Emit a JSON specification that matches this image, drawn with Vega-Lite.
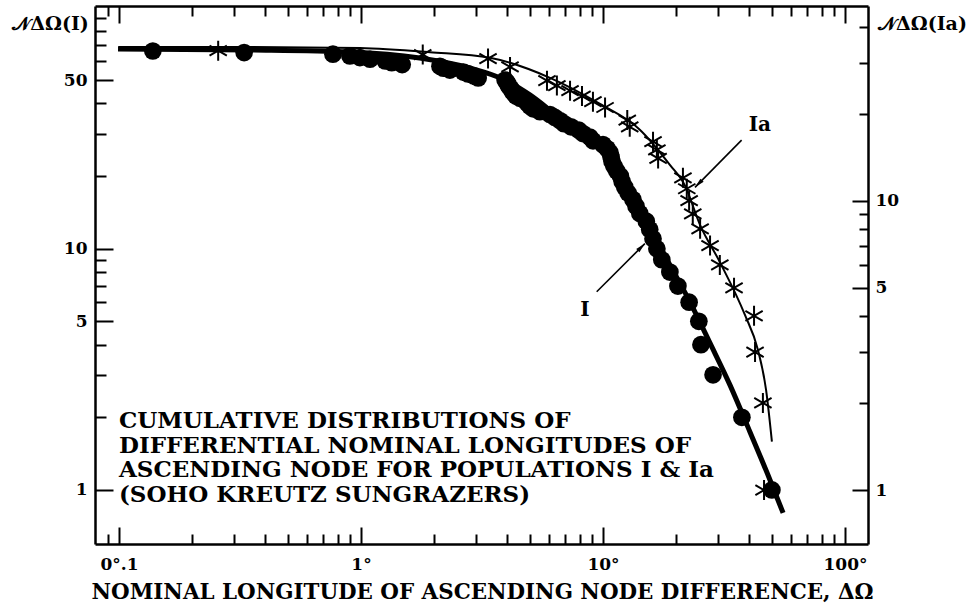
{
  "$schema": "https://vega.github.io/schema/vega-lite/v6.json",
  "width": 773,
  "height": 538,
  "autosize": {"type": "none"},
  "padding": {"left": 95, "top": 6, "right": 101, "bottom": 59},
  "background": "white",
  "config": {"view": {"stroke": null}, "font": "DejaVu Serif",
    "axis": {"grid": false, "tickColor": "black", "tickWidth": 2, "domainColor": "black", "domainWidth": 2.5,
      "labelFont": "DejaVu Serif", "labelFontWeight": "bold", "labelFontSize": 17, "labelColor": "black",
      "labelOverlap": false, "labelFlush": false, "labelBound": false,
      "titleFont": "DejaVu Serif", "titleFontWeight": "bold", "titleColor": "black"}},
  "datasets": {
    "popI": [
      {"dOmega": 0.138, "N": 66}, {"dOmega": 0.329, "N": 65}, {"dOmega": 0.766, "N": 64}, {"dOmega": 0.90, "N": 63},
      {"dOmega": 0.99, "N": 62}, {"dOmega": 1.09, "N": 61}, {"dOmega": 1.26, "N": 60}, {"dOmega": 1.34, "N": 59},
      {"dOmega": 1.48, "N": 58}, {"dOmega": 2.12, "N": 57}, {"dOmega": 2.19, "N": 56}, {"dOmega": 2.33, "N": 55},
      {"dOmega": 2.65, "N": 54}, {"dOmega": 2.77, "N": 53}, {"dOmega": 2.93, "N": 52}, {"dOmega": 3.05, "N": 51},
      {"dOmega": 3.94, "N": 50}, {"dOmega": 4.01, "N": 49}, {"dOmega": 4.05, "N": 48}, {"dOmega": 4.09, "N": 47},
      {"dOmega": 4.17, "N": 46}, {"dOmega": 4.21, "N": 45}, {"dOmega": 4.29, "N": 44}, {"dOmega": 4.37, "N": 43},
      {"dOmega": 4.54, "N": 42}, {"dOmega": 4.80, "N": 41}, {"dOmega": 4.88, "N": 40}, {"dOmega": 4.99, "N": 39},
      {"dOmega": 5.15, "N": 38}, {"dOmega": 5.49, "N": 37}, {"dOmega": 6.04, "N": 36}, {"dOmega": 6.33, "N": 35},
      {"dOmega": 6.64, "N": 34}, {"dOmega": 6.90, "N": 33}, {"dOmega": 7.38, "N": 32}, {"dOmega": 7.95, "N": 31},
      {"dOmega": 8.27, "N": 30}, {"dOmega": 8.84, "N": 29}, {"dOmega": 9.1, "N": 28}, {"dOmega": 10.0, "N": 27},
      {"dOmega": 10.4, "N": 26}, {"dOmega": 10.7, "N": 25}, {"dOmega": 10.8, "N": 24}, {"dOmega": 10.9, "N": 23},
      {"dOmega": 11.1, "N": 22}, {"dOmega": 11.4, "N": 21}, {"dOmega": 11.8, "N": 20}, {"dOmega": 12.0, "N": 19},
      {"dOmega": 12.3, "N": 18}, {"dOmega": 12.7, "N": 17}, {"dOmega": 13.3, "N": 16}, {"dOmega": 13.7, "N": 15},
      {"dOmega": 14.2, "N": 14}, {"dOmega": 15.1, "N": 13}, {"dOmega": 15.6, "N": 12}, {"dOmega": 16.1, "N": 11},
      {"dOmega": 16.7, "N": 10}, {"dOmega": 17.5, "N": 9}, {"dOmega": 18.9, "N": 8}, {"dOmega": 20.4, "N": 7},
      {"dOmega": 22.7, "N": 6}, {"dOmega": 24.9, "N": 5}, {"dOmega": 25.4, "N": 4}, {"dOmega": 28.5, "N": 3},
      {"dOmega": 37.5, "N": 2}, {"dOmega": 49.9, "N": 1}
    ],
    "popIa": [
      {"dOmega": 0.257, "N": 33}, {"dOmega": 1.80, "N": 32}, {"dOmega": 3.35, "N": 31}, {"dOmega": 4.13, "N": 29},
      {"dOmega": 5.87, "N": 26}, {"dOmega": 6.45, "N": 25}, {"dOmega": 7.31, "N": 24}, {"dOmega": 8.19, "N": 23},
      {"dOmega": 9.09, "N": 22}, {"dOmega": 10.2, "N": 21}, {"dOmega": 12.6, "N": 19}, {"dOmega": 12.9, "N": 18},
      {"dOmega": 16.1, "N": 16}, {"dOmega": 16.7, "N": 15}, {"dOmega": 16.9, "N": 14}, {"dOmega": 21.4, "N": 12},
      {"dOmega": 22.2, "N": 11}, {"dOmega": 22.7, "N": 10}, {"dOmega": 23.5, "N": 9}, {"dOmega": 25.2, "N": 8},
      {"dOmega": 27.7, "N": 7}, {"dOmega": 30.4, "N": 6}, {"dOmega": 34.8, "N": 5}, {"dOmega": 42.1, "N": 4},
      {"dOmega": 42.5, "N": 3}, {"dOmega": 45.8, "N": 2}, {"dOmega": 46.3, "N": 1}
    ],
    "fitI": [
      {"dOmega": 0.0991, "N": 67.2}, {"dOmega": 0.348, "N": 66.6}, {"dOmega": 0.901, "N": 65.4}, {"dOmega": 1.75, "N": 61.7},
      {"dOmega": 2.82, "N": 56.1}, {"dOmega": 3.94, "N": 50.0}, {"dOmega": 4.99, "N": 43.4}, {"dOmega": 6.64, "N": 34.8},
      {"dOmega": 8.84, "N": 28.2}, {"dOmega": 10.7, "N": 22.9}, {"dOmega": 12.9, "N": 16.7}, {"dOmega": 15.6, "N": 12.2},
      {"dOmega": 18.9, "N": 8.57}, {"dOmega": 22.9, "N": 6.01}, {"dOmega": 27.7, "N": 4.06}, {"dOmega": 33.5, "N": 2.72},
      {"dOmega": 40.5, "N": 1.74}, {"dOmega": 49.0, "N": 1.10}, {"dOmega": 55.5, "N": 0.803}
    ],
    "fitIa": [
      {"dOmega": 0.0994, "N": 34.0}, {"dOmega": 0.316, "N": 34.0}, {"dOmega": 0.99, "N": 33.7}, {"dOmega": 1.93, "N": 32.6},
      {"dOmega": 3.41, "N": 31.2}, {"dOmega": 6.04, "N": 26.6}, {"dOmega": 9.72, "N": 21.6}, {"dOmega": 14.2, "N": 17.6},
      {"dOmega": 18.9, "N": 13.3}, {"dOmega": 21.8, "N": 11.3}, {"dOmega": 25.2, "N": 8.24}, {"dOmega": 30.4, "N": 6.14},
      {"dOmega": 38.6, "N": 4.03}, {"dOmega": 43.7, "N": 3.05}, {"dOmega": 47.2, "N": 2.22}, {"dOmega": 49.9, "N": 1.47}
    ],
    "arrows": [
      {"label": "I", "x1": 9.42, "y1": 6.63, "x2": 14.9, "y2": 10.5},
      {"label": "Ia", "x1": 37.4, "y1": 28.2, "x2": 24.0, "y2": 17.96}
    ],
    "labels": [
      {"text": "I", "x": 8.43, "y": 5.57},
      {"text": "Ia", "x": 44.5, "y": 32.6}
    ],
    "note": [
      {"text": "CUMULATIVE DISTRIBUTIONS OF\nDIFFERENTIAL NOMINAL LONGITUDES OF\nASCENDING NODE FOR POPULATIONS I & Ia\n(SOHO KREUTZ SUNGRAZERS)", "x": 0.1, "y": 1.807}
    ]
  },
  "layer": [
    {
      "data": {"name": "fitIa"},
      "mark": {"type": "line", "color": "black", "strokeWidth": 2, "interpolate": "monotone"},
      "encoding": {
        "x": {"field": "dOmega", "type": "quantitative",
          "scale": {"type": "log", "domain": [0.0796, 124.5], "nice": false},
          "axis": {"orient": "top", "values": [0.1, 1, 10, 100], "labels": false, "tickSize": -17, "title": null}},
        "y": {"field": "N", "type": "quantitative",
          "scale": {"type": "log", "domain": [0.651, 47.1], "nice": false},
          "axis": {"orient": "right", "values": [1, 5, 10],
            "labelExpr": "datum.value == 1 ? '1' : datum.value == 5 ? '5' : '10'",
            "tickSize": -16, "labelPadding": 23,
            "title": "𝒩ΔΩ(Ia)", "titleFontSize": 19,
            "titleAngle": 0, "titleX": 54, "titleY": 17, "titleAlign": "center", "titleBaseline": "middle"}}
      }
    },
    {
      "data": {"name": "popIa"},
      "mark": {"type": "point", "shape": "M0,-1L0,1M-0.866,-0.5L0.866,0.5M-0.866,0.5L0.866,-0.5", "size": 400, "filled": false, "stroke": "black", "strokeWidth": 2, "opacity": 1},
      "encoding": {
        "x": {"field": "dOmega", "type": "quantitative", "scale": {"type": "log", "domain": [0.0796, 124.5], "nice": false},
          "axis": {"orient": "top", "values": [0.09, 0.2, 0.3, 0.4, 0.5, 0.6, 0.7, 0.8, 0.9, 2, 3, 4, 5, 6, 7, 8, 9, 20, 30, 40, 50, 60, 70, 80, 90], "labels": false, "domain": false, "tickSize": -10, "title": null}},
        "y": {"field": "N", "type": "quantitative", "scale": {"type": "log", "domain": [0.651, 47.1], "nice": false},
          "axis": {"orient": "right", "values": [2, 3, 4, 6, 7, 8, 9, 20, 30, 40], "labels": false, "domain": false, "tickSize": -9, "title": null}}
      }
    },
    {
      "data": {"name": "fitI"},
      "mark": {"type": "line", "color": "black", "strokeWidth": 5, "interpolate": "monotone"},
      "encoding": {
        "x": {"field": "dOmega", "type": "quantitative",
          "scale": {"type": "log", "domain": [0.0796, 124.5], "nice": false},
          "axis": {"orient": "bottom", "values": [0.1, 1, 10, 100],
            "labelExpr": "datum.value == 0.1 ? '0°.1' : datum.value == 1 ? '1°' : datum.value == 10 ? '10°' : '100°'",
            "tickSize": -17, "labelPadding": 29,
            "title": "NOMINAL LONGITUDE OF ASCENDING NODE DIFFERENCE, ΔΩ", "titleFontSize": 21.4,
            "titleX": 387, "titleY": 54, "titleAlign": "center", "titleBaseline": "alphabetic"}},
        "y": {"field": "N", "type": "quantitative",
          "scale": {"type": "log", "domain": [0.597, 101.4], "nice": false},
          "axis": {"orient": "left", "values": [1, 5, 10, 50],
            "labelExpr": "datum.value == 1 ? '1' : datum.value == 5 ? '5' : datum.value == 10 ? '10' : '50'",
            "tickSize": -18, "labelPadding": 26,
            "title": "𝒩ΔΩ(I)", "titleFontSize": 19,
            "titleAngle": 0, "titleX": -45, "titleY": 17, "titleAlign": "center", "titleBaseline": "middle"}}
      }
    },
    {
      "data": {"name": "popI"},
      "mark": {"type": "circle", "size": 314, "color": "black", "opacity": 1},
      "encoding": {
        "x": {"field": "dOmega", "type": "quantitative", "scale": {"type": "log", "domain": [0.0796, 124.5], "nice": false},
          "axis": {"orient": "bottom", "values": [0.09, 0.2, 0.3, 0.4, 0.5, 0.6, 0.7, 0.8, 0.9, 2, 3, 4, 5, 6, 7, 8, 9, 20, 30, 40, 50, 60, 70, 80, 90], "labels": false, "domain": false, "tickSize": -10, "title": null}},
        "y": {"field": "N", "type": "quantitative", "scale": {"type": "log", "domain": [0.597, 101.4], "nice": false},
          "axis": {"orient": "left", "values": [2, 3, 4, 6, 7, 8, 9, 20, 30, 40, 60, 70, 80, 90], "labels": false, "domain": false, "tickSize": -11, "title": null}}
      }
    },
    {
      "data": {"name": "arrows"},
      "mark": {"type": "rule", "color": "black", "strokeWidth": 1.6},
      "encoding": {
        "x": {"field": "x1", "type": "quantitative", "scale": {"type": "log", "domain": [0.0796, 124.5], "nice": false}, "axis": null},
        "y": {"field": "y1", "type": "quantitative", "scale": {"type": "log", "domain": [0.597, 101.4], "nice": false}, "axis": null},
        "x2": {"field": "x2"},
        "y2": {"field": "y2"}
      }
    },
    {
      "data": {"name": "arrows"},
      "mark": {"type": "point", "shape": "M0,0L-0.45,2L0.45,2Z", "size": 100, "filled": true, "color": "black", "opacity": 1},
      "encoding": {
        "x": {"field": "x2", "type": "quantitative", "scale": {"type": "log", "domain": [0.0796, 124.5], "nice": false}, "axis": null},
        "y": {"field": "y2", "type": "quantitative", "scale": {"type": "log", "domain": [0.597, 101.4], "nice": false}, "axis": null},
        "angle": {"condition": {"test": "datum.label == 'I'", "value": 45}, "value": 225}
      }
    },
    {
      "data": {"name": "labels"},
      "mark": {"type": "text", "font": "DejaVu Serif", "fontWeight": "bold", "fontSize": 20, "color": "black", "align": "center", "baseline": "middle"},
      "encoding": {
        "x": {"field": "x", "type": "quantitative", "scale": {"type": "log", "domain": [0.0796, 124.5], "nice": false}, "axis": null},
        "y": {"field": "y", "type": "quantitative", "scale": {"type": "log", "domain": [0.597, 101.4], "nice": false}, "axis": null},
        "text": {"field": "text"}
      }
    },
    {
      "data": {"name": "note"},
      "mark": {"type": "text", "font": "DejaVu Serif", "fontWeight": "bold", "fontSize": 23, "color": "black", "align": "left", "baseline": "alphabetic", "lineBreak": "\n", "lineHeight": 24.7},
      "encoding": {
        "x": {"field": "x", "type": "quantitative", "scale": {"type": "log", "domain": [0.0796, 124.5], "nice": false}, "axis": null},
        "y": {"field": "y", "type": "quantitative", "scale": {"type": "log", "domain": [0.597, 101.4], "nice": false}, "axis": null},
        "text": {"field": "text"}
      }
    }
  ],
  "resolve": {"scale": {"y": "independent"}, "axis": {"x": "independent", "y": "independent"}}
}
